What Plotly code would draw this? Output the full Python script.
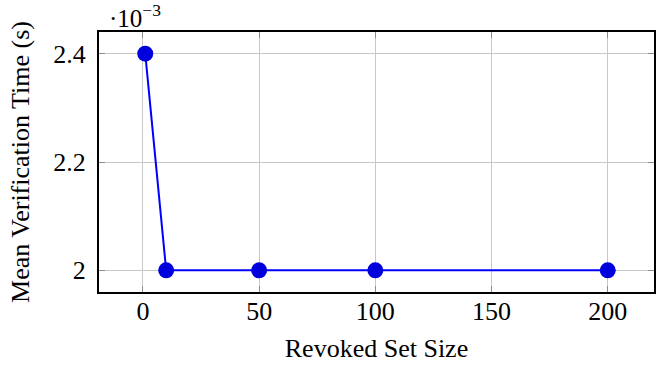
import plotly.graph_objects as go

revoked_set_size = [1, 10, 50, 100, 200]
mean_verification_time_s = [0.0024, 0.0020, 0.0020, 0.0020, 0.0020]

x_tick_vals = [0, 50, 100, 150, 200]
y_tick_vals = [0.0020, 0.0022, 0.0024]
y_tick_text = ["2", "2.2", "2.4"]

FONT = "Liberation Serif, Times New Roman, serif"
SIZE = 26

fig = go.Figure()
fig.add_trace(go.Scatter(
    x=revoked_set_size,
    y=mean_verification_time_s,
    mode="lines+markers",
    line=dict(color="#0000ff", width=2),
    marker=dict(color="#0000dd", size=16, line=dict(width=0)),
    showlegend=False,
))

axis_common = dict(
    showgrid=True, gridcolor="#c8c8c8", gridwidth=1,
    showline=True, linecolor="black", linewidth=2, mirror="ticks",
    ticks="inside", ticklen=6, tickcolor="#8c8c8c", tickwidth=1,
    zeroline=False, automargin=False,
    tickfont=dict(family=FONT, size=SIZE, color="black"),
)

fig.update_xaxes(
    range=[-18.9, 219.9], tickvals=x_tick_vals,
    title=dict(text="Revoked Set Size", font=dict(family=FONT, size=SIZE, color="black"), standoff=14),
    ticklabelstandoff=-5,
    **axis_common,
)
fig.update_yaxes(
    range=[0.00196, 0.00244], tickvals=y_tick_vals, ticktext=y_tick_text,
    title=dict(text="Mean Verification Time (s)", font=dict(family=FONT, size=SIZE, color="black"), standoff=16),
    ticklabelstandoff=6,
    **axis_common,
)

fig.add_annotation(
    text="·10<sup>−3</sup>", xref="paper", yref="paper", x=0.0, y=1.0,
    xanchor="left", yanchor="bottom", showarrow=False, yshift=-2, xshift=8,
    font=dict(family=FONT, size=25, color="black"),
)

fig.update_layout(
    width=668, height=366,
    margin=dict(l=99, r=14, t=32, b=74),
    plot_bgcolor="white", paper_bgcolor="white",
)

fig.write_html(
    "out.html",
    config={"displayModeBar": False},
    post_script="document.body.style.margin='0';document.body.style.padding='0';",
)
